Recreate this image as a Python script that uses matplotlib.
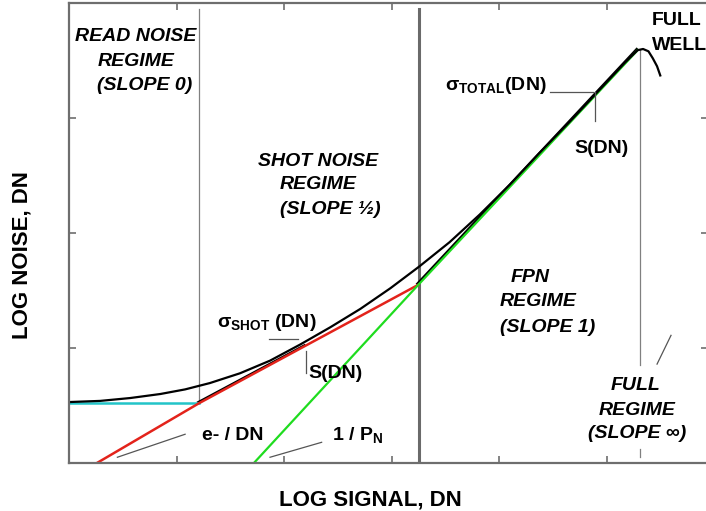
import matplotlib
matplotlib.use('Agg')
import matplotlib.pyplot as plt
import matplotlib.transforms as mtransforms

plt.rcParams['font.family'] = ['Liberation Sans', 'DejaVu Sans']
plt.rcParams['mathtext.default'] = 'regular'

# all values in log units (decades): x = log signal, y = log noise
# total noise curve (black)
total_x = [0.00, 0.29, 0.57, 0.85, 1.08, 1.31, 1.59, 1.87, 2.15, 2.43, 2.71, 2.99,
           3.26, 3.54, 3.82, 4.10, 4.38, 4.66, 4.94, 5.17, 5.29, 5.34, 5.39, 5.43,
           5.47, 5.50]
total_y = [0.53, 0.54, 0.565, 0.60, 0.64, 0.695, 0.78, 0.89, 1.03, 1.18, 1.34, 1.52,
           1.71, 1.92, 2.16, 2.42, 2.70, 2.97, 3.25, 3.48, 3.59, 3.60, 3.58, 3.52,
           3.45, 3.37]

# read noise floor (cyan)
read_x = [0.00, 1.21]
read_y = [0.52, 0.52]

# shot noise line, slope 1/2 (red)
shot_x = [0.26, 1.21, 3.25]
shot_y = [0.00, 0.52, 1.55]

# fixed pattern noise line, slope 1 (green)
fpn_x = [1.72, 3.25, 5.29]
fpn_y = [0.00, 1.55, 3.59]

# boundaries between regimes
read_bound_x = 1.21
fpn_bound_x = 3.26
well_x = 5.31
well_top = 3.59

fig = plt.figure(figsize=(7.06, 5.11), dpi=100)
ax = fig.add_axes([69 / 706, 48 / 511, 639 / 706, 460 / 511])
ax.set_xlim(0, 5.944)
ax.set_ylim(0, 4.0)

grey = '#6e6e6e'
for s in ax.spines.values():
    s.set_color(grey)
    s.set_linewidth(1.6)
ax.set_xticks([1, 2, 3, 4, 5])
ax.set_yticks([1, 2, 3])
ax.tick_params(direction='in', length=5, width=1.2, color=grey,
               top=True, right=True, labelbottom=False, labelleft=False)

# regime boundaries
ax.plot([read_bound_x, read_bound_x], [read_y[0], 3.95], color='#808080', lw=0.9)
ax.plot([fpn_bound_x, fpn_bound_x], [0, 3.95], color='#6a6a6a', lw=2.2)
ax.plot([well_x, well_x], [0.85, well_top], color='#808080', lw=0.9)
ax.plot([well_x, well_x], [0.05, 0.12], color='#808080', lw=0.9)

# black edge along red and green lines
shift = mtransforms.offset_copy(ax.transData, fig=fig, x=-1.0, y=1.0, units='dots')
ax.plot([shot_x[1], 2.2], [shot_y[1], shot_y[1] + 0.5 * (2.2 - shot_x[1])],
        color='black', lw=1.6, transform=shift)
ax.plot(fpn_x[1:], fpn_y[1:], color='black', lw=1.8, transform=shift)

ax.plot(read_x, read_y, color='#22c4c8', lw=1.8)
ax.plot(shot_x, shot_y, color='#e3231b', lw=1.8)
ax.plot(fpn_x, fpn_y, color='#1fdc1f', lw=1.6)
ax.plot(total_x, total_y, color='black', lw=1.6, solid_joinstyle='round')

# leader lines
lead = dict(color='#555555', lw=0.9)
ax.plot([4.47, 4.87], [3.23, 3.23], **lead)
ax.plot([4.89, 4.89], [3.23, 2.97], **lead)
ax.plot([1.86, 2.13], [1.08, 1.08], **lead)
ax.plot([2.20, 2.20], [0.97, 0.78], **lead)
ax.plot([0.45, 1.08], [0.05, 0.25], **lead)
ax.plot([1.87, 2.35], [0.05, 0.18], **lead)
ax.plot([5.47, 5.60], [0.86, 1.11], **lead)

# regime labels
reg = dict(fontsize=14, fontweight='bold', style='italic', ha='center', va='baseline')
ax.text(0.623, 3.670, 'READ NOISE', **reg)
ax.text(0.623, 3.452, 'REGIME', **reg)
ax.text(0.707, 3.243, '(SLOPE 0)', **reg)
ax.text(2.316, 2.583, 'SHOT NOISE', **reg)
ax.text(2.316, 2.383, 'REGIME', **reg)
ax.text(2.428, 2.165, '(SLOPE \u00bd)', **reg)
ax.text(4.288, 1.574, 'FPN', **reg)
ax.text(4.363, 1.365, 'REGIME', **reg)
ax.text(4.456, 1.139, '(SLOPE 1)', **reg)
ax.text(5.274, 0.635, 'FULL', **reg)
ax.text(5.284, 0.417, 'REGIME', **reg)
ax.text(5.284, 0.217, '(SLOPE \u221e)', **reg)

note = dict(fontsize=14, fontweight='bold', ha='left', va='baseline')
ax.text(5.42, 3.809, 'FULL', clip_on=False, **note)
ax.text(5.42, 3.591, 'WELL', clip_on=False, **note)
ax.text(3.50, 3.243, r'$\sigma_{TOTAL}$(DN)', **note)
ax.text(4.95, 2.696, 'S(DN)', **{**note, 'ha': 'center'})
ax.text(1.377, 1.183, r'$\sigma_{SHOT}$ (DN)', **note)
ax.text(2.223, 0.739, 'S(DN)', **note)
ax.text(1.237, 0.20, 'e- / DN', **note)
ax.text(2.447, 0.20, r'1 / $P_N$', **note)

fig.text(370 / 706, 6 / 511, 'LOG SIGNAL, DN', fontsize=16, fontweight='bold',
         ha='center', va='baseline')
fig.text(22 / 706, 0.50, 'LOG NOISE, DN', fontsize=16, fontweight='bold',
         ha='center', va='center', rotation=90)

fig.savefig('out.png', dpi=100)
